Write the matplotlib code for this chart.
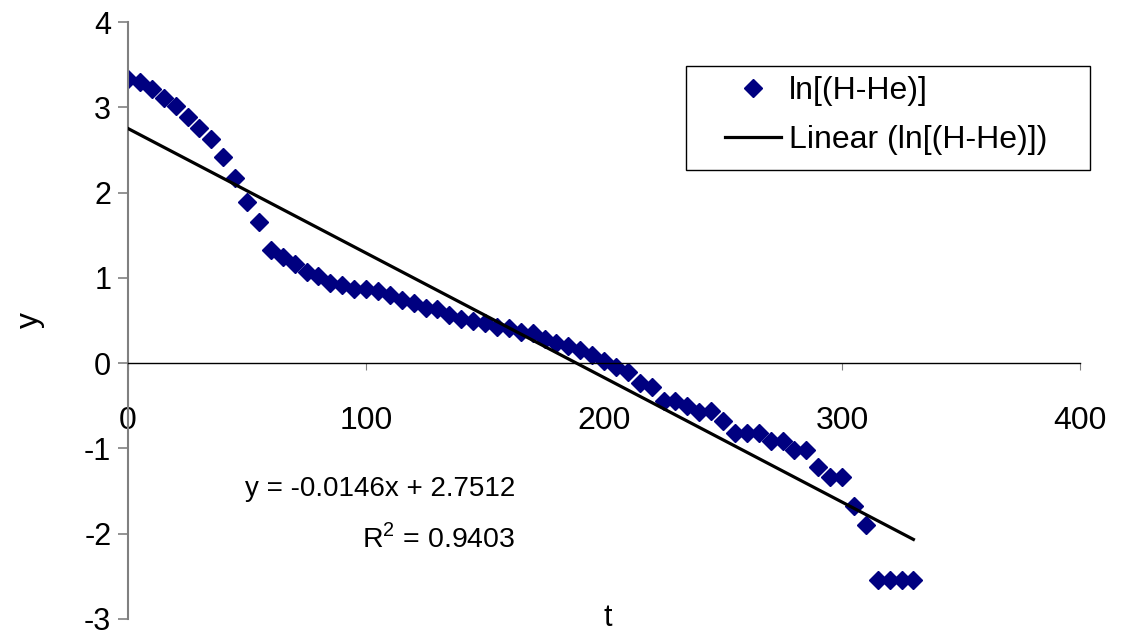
import numpy as np
import matplotlib.pyplot as plt
from matplotlib.patches import Rectangle

plt.rcParams['font.family'] = ['Liberation Sans', 'DejaVu Sans']
plt.rcParams['axes.unicode_minus'] = False
plt.rcParams['mathtext.fontset'] = 'custom'
plt.rcParams['mathtext.rm'] = 'Liberation Sans'

# time values (t) and ln[(H-He)]
t = [0, 5, 10, 15, 20, 25, 30, 35, 40, 45,
     50, 55, 60, 65, 70, 75, 80, 85, 90, 95,
     100, 105, 110, 115, 120, 125, 130, 135, 140, 145,
     150, 155, 160, 165, 170, 175, 180, 185, 190, 195,
     200, 205, 210, 215, 220, 225, 230, 235, 240, 245,
     250, 255, 260, 265, 270, 275, 280, 285, 290, 295,
     300, 305, 310, 315, 320, 325, 330]
ln_h = [3.33, 3.30, 3.22, 3.11, 3.02, 2.89, 2.76, 2.63, 2.42, 2.17,
        1.89, 1.65, 1.33, 1.24, 1.16, 1.07, 1.02, 0.94, 0.92, 0.87,
        0.87, 0.85, 0.80, 0.74, 0.70, 0.65, 0.63, 0.56, 0.52, 0.50,
        0.47, 0.42, 0.41, 0.36, 0.35, 0.28, 0.24, 0.20, 0.15, 0.10,
        0.03, -0.04, -0.10, -0.23, -0.28, -0.44, -0.44, -0.50, -0.57, -0.56,
        -0.68, -0.82, -0.82, -0.82, -0.91, -0.91, -1.02, -1.02, -1.22, -1.34,
        -1.34, -1.67, -1.90, -2.54, -2.54, -2.54, -2.54]

# trendline from the chart
slope = -0.0146
intercept = 2.7512
r2 = 0.9403
t_fit = np.array([t[0], t[-1]])
y_fit = slope * t_fit + intercept

xticks = [0, 100, 200, 300, 400]
yticks = [-3, -2, -1, 0, 1, 2, 3, 4]

fig = plt.figure(figsize=(11.25, 6.36), dpi=100)
ax = fig.add_axes([128 / 1125, 17 / 636, 952 / 1125, 597 / 636])

ax.plot(t, ln_h, ls='none', marker='D', color='#000080', markersize=9,
        label='ln[(H-He)]', zorder=2)
ax.plot(t_fit, y_fit, color='black', lw=2.3, label='Linear (ln[(H-He)])', zorder=3)

ax.set_xlim(0, 400)
ax.set_ylim(-3, 4)
ax.set_xticks(xticks)
ax.set_yticks(yticks)

for s in ['top', 'right']:
    ax.spines[s].set_visible(False)
ax.spines['bottom'].set_position(('data', 0))
ax.spines['bottom'].set_color('black')
ax.spines['bottom'].set_linewidth(1)
ax.spines['left'].set_color('#808080')
ax.spines['left'].set_linewidth(1.5)

ax.tick_params(axis='x', direction='out', length=5, color='#808080',
               labelsize=23, pad=26)
ax.tick_params(axis='y', direction='out', length=7, color='#808080',
               width=1.2, labelsize=22, pad=5)
for lbl in ax.get_yticklabels():
    lbl.set_va('center_baseline')

ax.text(-0.103, 0.5, 'y', transform=ax.transAxes, rotation=90,
        ha='center', va='center', fontsize=23)
ax.text(0.504, -0.012, 't', transform=ax.transAxes,
        ha='center', va='baseline', fontsize=22)

eq = 'y = %.4fx + %.4f' % (slope, intercept)
ax.text(162.6, -1.47, eq, ha='right', va='center', fontsize=20)
ax.text(162.6, -2.06, 'R$^2$ = %.4f' % r2, ha='right', va='center', fontsize=20.5)

ax.add_patch(Rectangle((0.5861, 0.7525), 0.4244, 0.1739, transform=ax.transAxes,
                       fill=True, facecolor='white', edgecolor='black', lw=1,
                       clip_on=False, zorder=4))
leg = ax.legend(loc='upper left', bbox_to_anchor=(0.6276, 0.9097), frameon=False,
                fontsize=23, handlelength=1.75, handletextpad=0.25,
                labelspacing=0.6, numpoints=1, borderpad=0, borderaxespad=0)
leg.set_zorder(5)

fig.savefig('out.png', dpi=100)
